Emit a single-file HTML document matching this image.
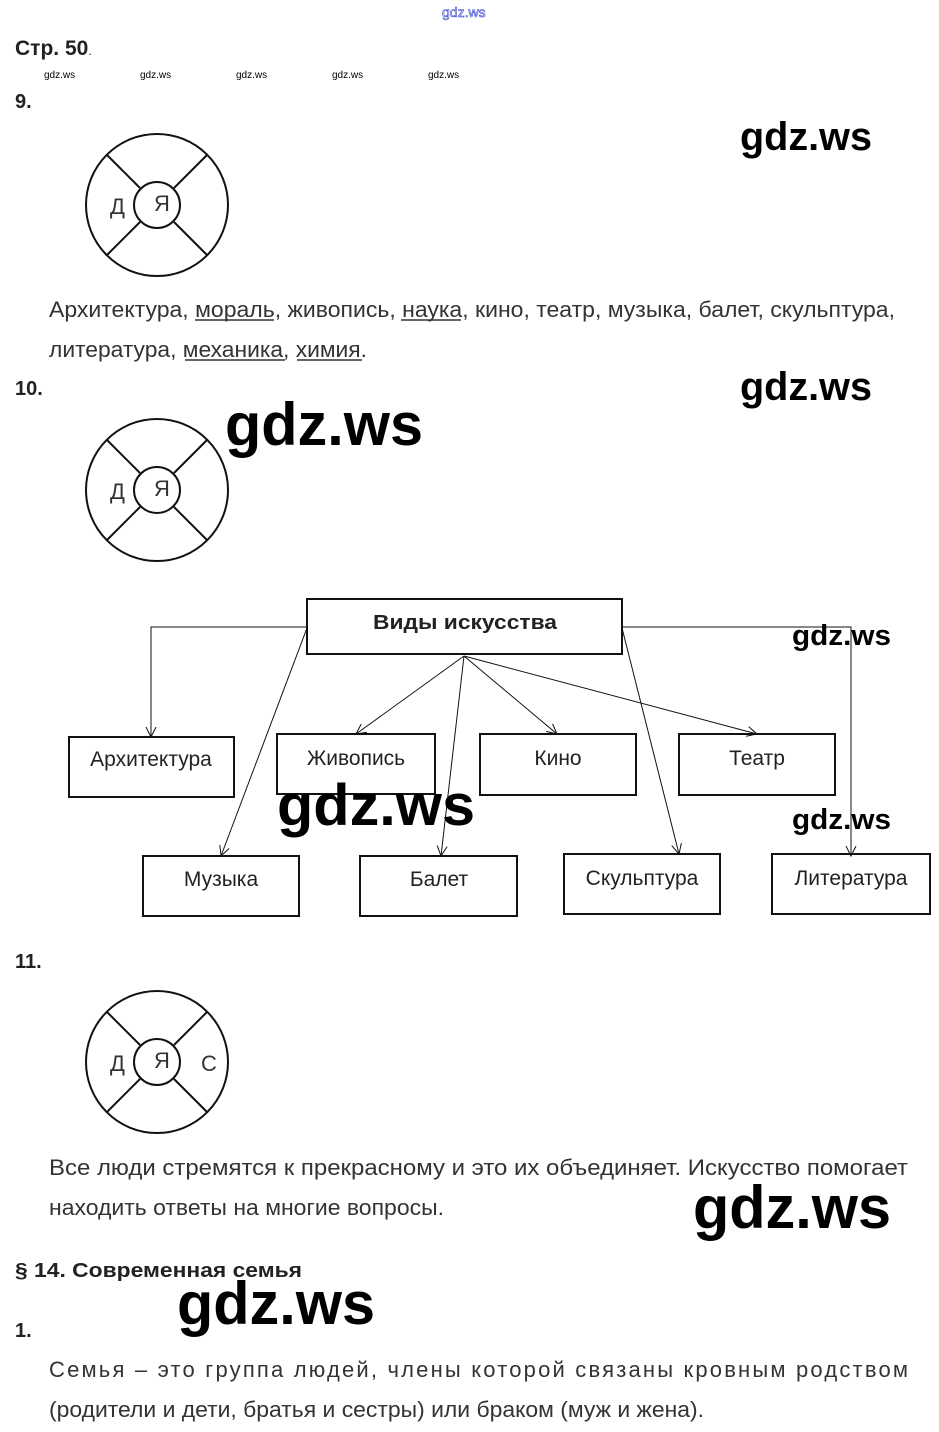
<!DOCTYPE html>
<html><head><meta charset="utf-8"><style>
html,body{margin:0;padding:0;background:#fff;}
svg{display:block;}
.t{font-family:"Liberation Sans",sans-serif;font-size:22px;fill:#333;}
.b{font-family:"Liberation Sans",sans-serif;font-weight:bold;fill:#222;}
.w{font-family:"Liberation Sans",sans-serif;font-weight:bold;fill:#000;}
.bx{font-family:"Liberation Sans",sans-serif;font-size:21px;fill:#222;text-anchor:middle;}
</style></head><body>
<svg width="939" height="1432" viewBox="0 0 939 1432" xmlns="http://www.w3.org/2000/svg">
<defs>
<g id="c" fill="none" stroke="#111" stroke-width="2">
<circle cx="0" cy="0" r="71"/>
<circle cx="0" cy="0" r="23"/>
<line x1="-17" y1="-17" x2="-50" y2="-50"/>
<line x1="17" y1="-17" x2="50" y2="-50"/>
<line x1="-17" y1="17" x2="-50" y2="50"/>
<line x1="17" y1="17" x2="50" y2="50"/>
</g>
<marker id="a" markerWidth="12" markerHeight="12" refX="10" refY="6" orient="auto" markerUnits="userSpaceOnUse">
<path d="M0,1 L10,6 L0,11" fill="none" stroke="#111" stroke-width="1"/>
</marker>
</defs>
<text x="442" y="17" font-family="Liberation Sans,sans-serif" font-size="14" fill="none" stroke="#3344cc" stroke-width="0.6">gdz.ws</text>
<text x="15" y="55" class="b" font-size="21">Стр. 50<tspan font-weight="normal" font-size="12">.</tspan></text>
<g font-family="Liberation Sans,sans-serif" fill="#000" font-size="10">
<text x="44" y="78">gdz.ws</text><text x="140" y="78">gdz.ws</text><text x="236" y="78">gdz.ws</text><text x="332" y="78">gdz.ws</text><text x="428" y="78">gdz.ws</text>
</g>
<text x="15" y="108" class="b" font-size="20">9.</text>
<use href="#c" x="157" y="205"/>
<text x="110" y="214" class="t" font-size="22">Д</text>
<text x="154" y="211" class="t" font-size="19">Я</text>
<text x="740" y="150" class="w" font-size="40" textLength="132" lengthAdjust="spacingAndGlyphs">gdz.ws</text>
<text x="49" y="317" class="t" textLength="846" lengthAdjust="spacingAndGlyphs">Архитектура, мораль, живопись, наука, кино, театр, музыка, балет, скульптура,</text>
<text x="49" y="357" class="t" textLength="318" lengthAdjust="spacingAndGlyphs">литература, механика, химия.</text>
<g stroke="#333" stroke-width="1.5">
<line x1="195" y1="320" x2="274" y2="320"/><line x1="401" y1="320" x2="461" y2="320"/>
<line x1="185" y1="360" x2="285" y2="360"/><line x1="297" y1="360" x2="362" y2="360"/>
</g>
<text x="15" y="395" class="b" font-size="20">10.</text>
<text x="740" y="400" class="w" font-size="40" textLength="132" lengthAdjust="spacingAndGlyphs">gdz.ws</text>
<use href="#c" x="157" y="490"/>
<text x="110" y="499" class="t" font-size="22">Д</text>
<text x="154" y="496" class="t" font-size="19">Я</text>
<text x="225" y="445" class="w" font-size="60" textLength="198" lengthAdjust="spacingAndGlyphs">gdz.ws</text>

<g fill="#fff" stroke="#111" stroke-width="2">
<rect x="307" y="599" width="315" height="55"/>
<rect x="69" y="737" width="165" height="60"/>
<rect x="277" y="734" width="158" height="60"/>
<rect x="480" y="734" width="156" height="61"/>
<rect x="679" y="734" width="156" height="61"/>
<rect x="143" y="856" width="156" height="60"/>
<rect x="360" y="856" width="157" height="60"/>
<rect x="564" y="854" width="156" height="60"/>
<rect x="772" y="854" width="158" height="60"/>
</g>
<g fill="none" stroke="#111" stroke-width="1" marker-end="url(#a)">
<polyline points="307,627 151,627 151,737"/>
<polyline points="622,627 851,627 851,856"/>
<line x1="464" y1="656" x2="356" y2="734"/>
<line x1="464" y1="656" x2="557" y2="734"/>
<line x1="464" y1="656" x2="757" y2="734"/>
<line x1="464" y1="656" x2="441" y2="856"/>
<line x1="307" y1="628" x2="221" y2="856"/>
<line x1="622" y1="628" x2="679" y2="854"/>
</g>
<text x="465" y="629" class="b" font-size="20" text-anchor="middle" textLength="184" lengthAdjust="spacingAndGlyphs">Виды искусства</text>
<text x="151" y="766" class="bx">Архитектура</text>
<text x="356" y="765" class="bx">Живопись</text>
<text x="558" y="765" class="bx">Кино</text>
<text x="757" y="765" class="bx">Театр</text>
<text x="221" y="886" class="bx">Музыка</text>
<text x="439" y="886" class="bx">Балет</text>
<text x="642" y="885" class="bx">Скульптура</text>
<text x="851" y="885" class="bx">Литература</text>
<text x="792" y="645" class="w" font-size="29" textLength="99" lengthAdjust="spacingAndGlyphs">gdz.ws</text>
<text x="792" y="829" class="w" font-size="29" textLength="99" lengthAdjust="spacingAndGlyphs">gdz.ws</text>
<text x="277" y="825" class="w" font-size="58" textLength="198" lengthAdjust="spacingAndGlyphs">gdz.ws</text>

<text x="15" y="968" class="b" font-size="20">11.</text>
<use href="#c" x="157" y="1062"/>
<text x="110" y="1071" class="t" font-size="22">Д</text>
<text x="154" y="1068" class="t" font-size="19">Я</text>
<text x="201" y="1071" class="t" font-size="22">С</text>
<text x="49" y="1175" class="t" textLength="859" lengthAdjust="spacingAndGlyphs">Все люди стремятся к прекрасному и это их объединяет. Искусство помогает</text>
<text x="49" y="1215" class="t" textLength="395" lengthAdjust="spacingAndGlyphs">находить ответы на многие вопросы.</text>
<text x="693" y="1228" class="w" font-size="60" textLength="198" lengthAdjust="spacingAndGlyphs">gdz.ws</text>
<text x="15" y="1277" class="b" font-size="20" textLength="287" lengthAdjust="spacingAndGlyphs">§ 14. Современная семья</text>
<text x="177" y="1324" class="w" font-size="60" textLength="198" lengthAdjust="spacingAndGlyphs">gdz.ws</text>
<text x="15" y="1337" class="b" font-size="20">1.</text>
<text x="49" y="1377" class="t" textLength="859" lengthAdjust="spacing">Семья – это группа людей, члены которой связаны кровным родством</text>
<text x="49" y="1417" class="t" textLength="655" lengthAdjust="spacingAndGlyphs">(родители и дети, братья и сестры) или браком (муж и жена).</text>
</svg>
</body></html>
